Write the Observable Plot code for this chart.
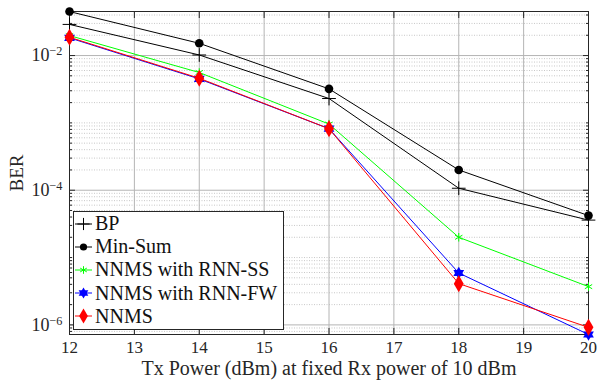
<!DOCTYPE html>
<html><head><meta charset="utf-8">
<script src="https://cdn.jsdelivr.net/npm/d3@7"></script>
<script src="https://cdn.jsdelivr.net/npm/@observablehq/plot@0.6"></script>
<style>
body{margin:0;background:#fff;}
#wrap{position:relative;width:597px;height:381px;font-family:"Liberation Serif","Times New Roman","DejaVu Serif",serif;}
#legend{position:absolute;left:73px;top:211px;width:211px;height:119px;box-sizing:border-box;border:1px solid #262626;background:#fff;}
.entry{position:absolute;left:0;height:22px;display:flex;align-items:center;font-size:20px;color:#111;white-space:nowrap;font-family:"Liberation Serif","Times New Roman",serif;}
</style></head><body><div id="wrap"><div id="legend"></div></div>
<script>
const txPower = [12, 14, 16, 18, 20];
const berBP = [0.029, 0.0102, 0.0023, 1.07e-4, 3.6e-5];
const berMinSum = [0.045, 0.0152, 0.0032, 2.0e-4, 4.2e-5];
const berRNNSS = [0.0198, 0.0056, 9.6e-4, 2.0e-5, 3.7e-6];
const berRNNFW = [0.0183, 0.0045, 8.2e-4, 5.9e-6, 7.2e-7];
const berNNMS = [0.0187, 0.0046, 8.2e-4, 4.1e-6, 9.2e-7];
const seriesNames = ["BP", "Min-Sum", "NNMS with RNN-SS", "NNMS with RNN-FW", "NNMS"];
const xTicks = [12, 13, 14, 15, 16, 17, 18, 19, 20];
const yMajorTicks = [1e-6, 1e-4, 1e-2];
const xLabel = "Tx Power (dBm) at fixed Rx power of 10 dBm";
const yLabel = "BER";

const yDomain = [7.2e-7, 0.0451];
const yMinorTicks = [];
for (let e = -7; e <= -2; e++) for (let m = 1; m <= 9; m++) {
  const v = m * Math.pow(10, e);
  if (v >= yDomain[0] && v <= yDomain[1] && !(m === 1 && e % 2 === 0)) yMinorTicks.push(v);
}
const pts = ys => txPower.map((x, i) => ({x, y: ys[i]}));
const font = "'Liberation Serif', 'Times New Roman', 'DejaVu Serif', serif";

const plot = Plot.plot({
  width: 597, height: 381,
  marginLeft: 69, marginRight: 9, marginTop: 11, marginBottom: 47,
  style: {fontFamily: font, fontSize: "16px", background: "#fff", color: "#262626"},
  x: {domain: [12, 20]},
  y: {type: "log", domain: yDomain},
  marks: [
    Plot.gridY(yMinorTicks, {stroke: "#c8c8c8", strokeOpacity: 1, strokeDasharray: "1,1.5"}),
    Plot.gridY(yMajorTicks, {stroke: "#b4b4b4", strokeOpacity: 1}),
    Plot.gridX(xTicks, {stroke: "#b4b4b4", strokeOpacity: 1}),
    Plot.axisX(xTicks, {anchor: "bottom", tickSize: -6, tickPadding: 12, tickFormat: d => String(d), fontSize: 17, label: null}),
    Plot.axisX([], {anchor: "bottom", tickSize: 0, label: xLabel, labelAnchor: "center", labelArrow: "none", labelOffset: 40, fontSize: 20}),
    Plot.axisX(xTicks, {anchor: "top", tickSize: -6, tickFormat: () => "", label: null}),
    Plot.axisY(yMajorTicks, {anchor: "left", tickSize: -6, tickPadding: 13, fontSize: 18,
      tickFormat: d => "10^" + Math.round(Math.log10(d)), label: null}),
    Plot.axisY([], {anchor: "left", tickSize: 0, label: yLabel, labelAnchor: "center", labelArrow: "none", labelOffset: 60, fontSize: 19}),
    Plot.axisY(yMinorTicks, {anchor: "left", tickSize: -3, tickFormat: () => "", label: null}),
    Plot.axisY(yMajorTicks, {anchor: "right", tickSize: -6, tickFormat: () => "", label: null}),
    Plot.axisY(yMinorTicks, {anchor: "right", tickSize: -3, tickFormat: () => "", label: null}),
    Plot.frame({stroke: "#262626"}),
    Plot.line(pts(berBP), {x: "x", y: "y", stroke: "#000", strokeWidth: 1}),
    Plot.dot(pts(berBP), {x: "x", y: "y", symbol: "plus", r: 4.5, stroke: "#000", strokeWidth: 1}),
    Plot.line(pts(berMinSum), {x: "x", y: "y", stroke: "#000", strokeWidth: 1}),
    Plot.dot(pts(berMinSum), {x: "x", y: "y", symbol: "circle", r: 4.3, fill: "#000"}),
    Plot.line(pts(berRNNSS), {x: "x", y: "y", stroke: "#00ff00", strokeWidth: 1}),
    Plot.dot(pts(berRNNSS), {x: "x", y: "y", symbol: "asterisk", r: 4, stroke: "#00ff00", strokeWidth: 1}),
    Plot.line(pts(berRNNFW), {x: "x", y: "y", stroke: "#0000ff", strokeWidth: 1}),
    Plot.dot(pts(berRNNFW), {x: "x", y: "y", symbol: "triangle", r: 4, fill: "#0000ff"}),
    Plot.dot(pts(berRNNFW), {x: "x", y: "y", symbol: "triangle", r: 4, rotate: 180, fill: "#0000ff"}),
    Plot.line(pts(berNNMS), {x: "x", y: "y", stroke: "#ff0000", strokeWidth: 1}),
    Plot.dot(pts(berNNMS), {x: "x", y: "y", symbol: "diamond", r: 5.2, fill: "#ff0000"})
  ]
});
document.getElementById("wrap").prepend(plot);

// serif on every text, superscript exponents on y tick labels
d3.select(plot).selectAll("text").attr("font-family", font).style("font-family", font);
d3.select(plot).selectAll('g[aria-label="y-axis tick label"] text').each(function() {
  const t = this.textContent;
  if (!t.startsWith("10^")) return;
  const exp = t.slice(3).replace("-", "\u2212");
  const sel = d3.select(this);
  sel.text("10");
  sel.append("tspan").attr("dy", "-0.5em").attr("font-size", "0.68em").text(exp);
});

// legend
const legendStyles = [
  {color: "#000", sym: d3.symbolPlus, fill: false, r: 4},
  {color: "#000", sym: d3.symbolCircle, fill: true, r: 3.6},
  {color: "#00ff00", sym: d3.symbolAsterisk, fill: false, r: 3.6},
  {color: "#0000ff", sym: "hex", fill: true, r: 3.6},
  {color: "#ff0000", sym: d3.symbolDiamond, fill: true, r: 4.6}
];
const legend = d3.select("#legend");
seriesNames.forEach((name, i) => {
  const s = legendStyles[i];
  const row = legend.append("div").attr("class", "entry").style("top", (0.5 + i * 23.2) + "px");
  const svg = row.append("svg").attr("width", 21).attr("height", 22);
  svg.append("line").attr("x1", 1).attr("x2", 18).attr("y1", 11).attr("y2", 11).attr("stroke", s.color);
  const size = Math.PI * s.r * s.r;
  const draw = (sym, rot) => svg.append("path")
    .attr("d", d3.symbol(sym, size)())
    .attr("transform", `translate(9.5,11) rotate(${rot})`)
    .attr("fill", s.fill ? s.color : "none")
    .attr("stroke", s.fill ? "none" : s.color);
  if (s.sym === "hex") { draw(d3.symbolTriangle, 0); draw(d3.symbolTriangle, 180); }
  else draw(s.sym, 0);
  row.append("span").style("font-family", font).text(name);
});
</script>
</body></html>
